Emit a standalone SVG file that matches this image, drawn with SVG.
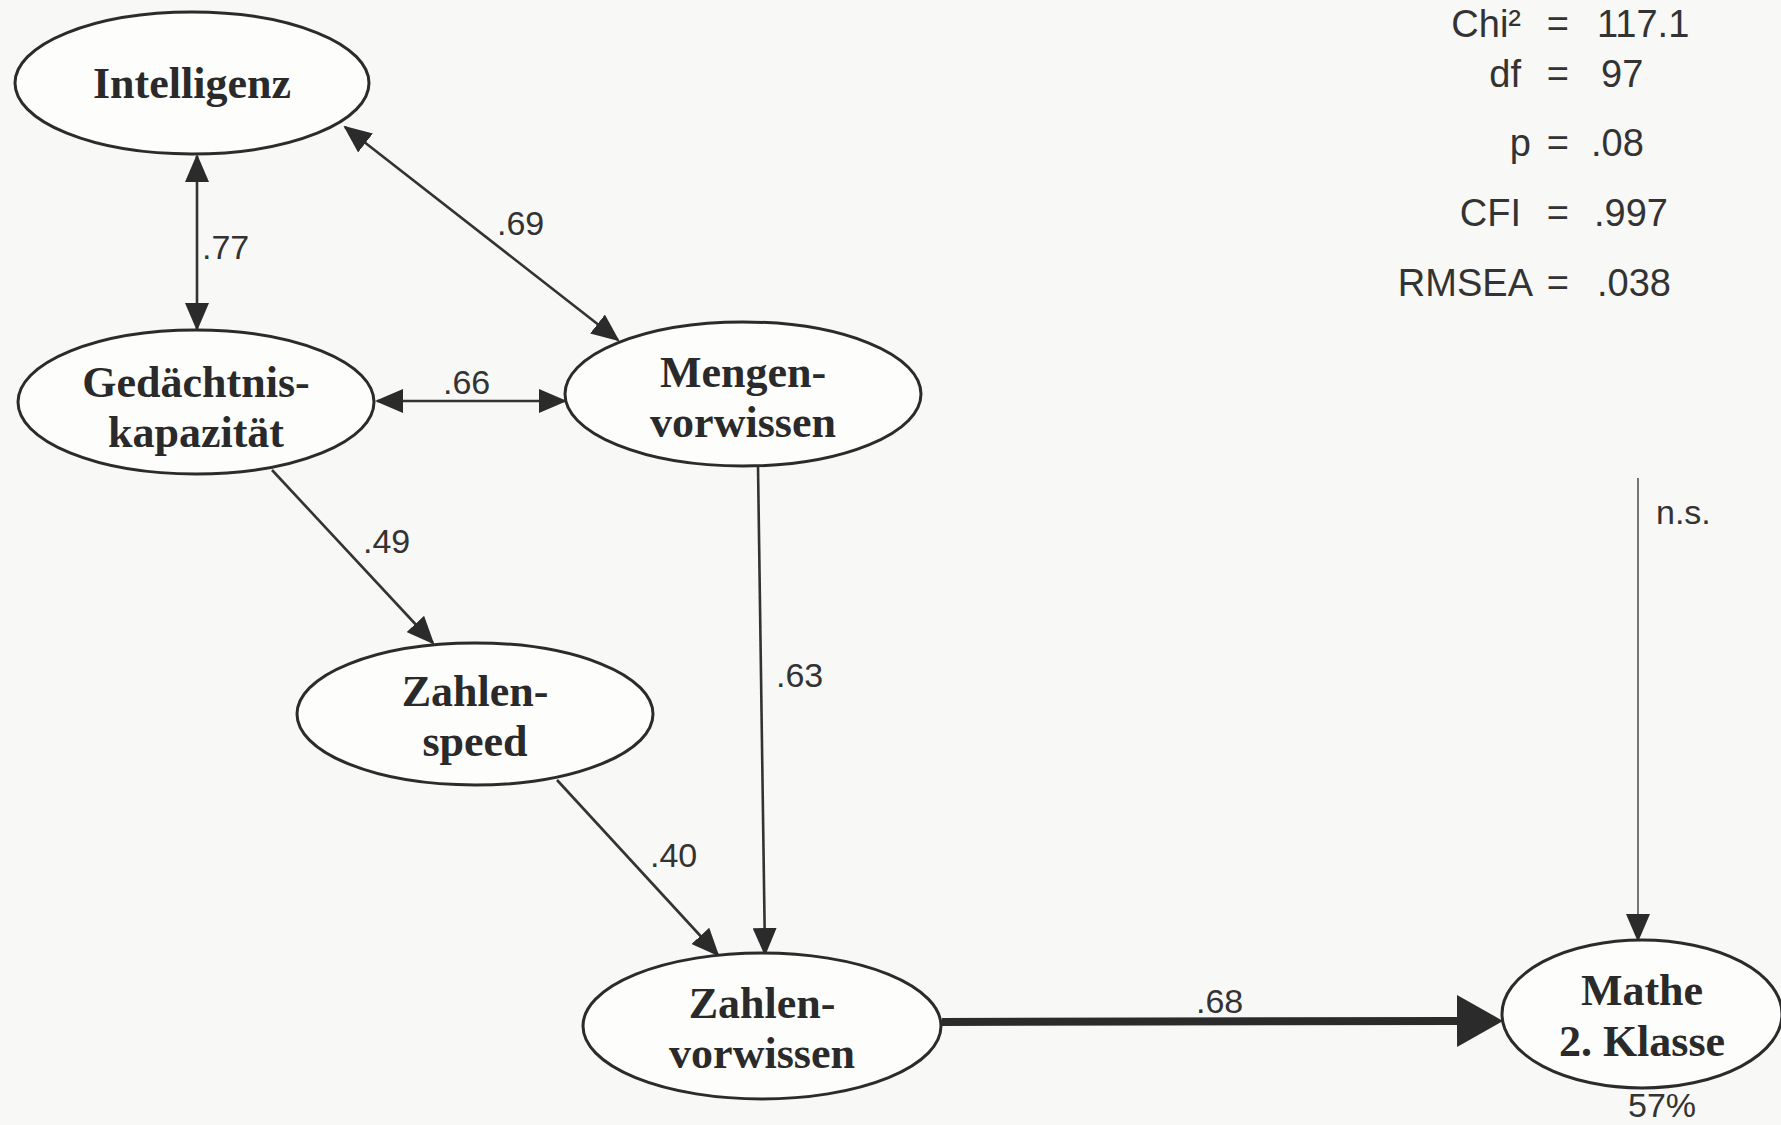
<svg xmlns="http://www.w3.org/2000/svg" width="1781" height="1125" viewBox="0 0 1781 1125">
<style>
.node ellipse{fill:#fdfdfc;stroke:#2b2b2b;stroke-width:3}
.node text{font-family:"Liberation Serif","Times New Roman",serif;font-weight:bold;font-size:44px;fill:#2a2a2a;text-anchor:middle}
.edge{stroke:#333;stroke-width:2.6;fill:none}
.lbl{font-family:"Liberation Sans",Arial,sans-serif;font-size:34px;fill:#333}
.stat{font-family:"Liberation Sans",Arial,sans-serif;font-size:38px;fill:#333}
</style>
<defs>
<marker id="ah" markerUnits="userSpaceOnUse" markerWidth="28" markerHeight="24" refX="26" refY="12" orient="auto-start-reverse" viewBox="0 0 28 24">
<path d="M0,0 L28,12 L0,24 z" fill="#2b2b2b"/>
</marker>
<marker id="big" markerUnits="userSpaceOnUse" markerWidth="46" markerHeight="52" refX="0" refY="26" orient="auto" viewBox="0 0 46 52">
<path d="M0,0 L46,26 L0,52 z" fill="#2b2b2b"/>
</marker>
</defs>
<rect x="0" y="0" width="1781" height="1125" fill="#f8f8f6"/>

<g id="connectors">
<line class="edge" x1="197" y1="156" x2="197" y2="329" marker-start="url(#ah)" marker-end="url(#ah)"/>
<line class="edge" x1="345" y1="127" x2="618" y2="340" marker-start="url(#ah)" marker-end="url(#ah)"/>
<line class="edge" x1="377" y1="401" x2="565" y2="401" marker-start="url(#ah)" marker-end="url(#ah)"/>
<line class="edge" x1="272" y1="470" x2="433" y2="643" marker-end="url(#ah)"/>
<line class="edge" x1="758" y1="466" x2="765" y2="954" marker-end="url(#ah)"/>
<line class="edge" x1="557" y1="780" x2="718" y2="955" marker-end="url(#ah)"/>
<line x1="942" y1="1022" x2="1457" y2="1021" stroke="#2b2b2b" stroke-width="8" marker-end="url(#big)"/>
<line x1="1638" y1="478" x2="1638" y2="940" stroke="#555" stroke-width="1.6" marker-end="url(#ah)"/>
<text class="lbl" x="202" y="259">.77</text>
<text class="lbl" x="497" y="235">.69</text>
<text class="lbl" x="443" y="394">.66</text>
<text class="lbl" x="363" y="553">.49</text>
<text class="lbl" x="776" y="687">.63</text>
<text class="lbl" x="650" y="867">.40</text>
<text class="lbl" x="1196" y="1013">.68</text>
<text class="lbl" x="1656" y="524">n.s.</text>
</g>

<g id="node-intelligenz" class="node">
<ellipse cx="192" cy="83" rx="177" ry="71"/>
<text x="192" y="98">Intelligenz</text>
</g>
<g id="node-gedaechtnis" class="node">
<ellipse cx="196" cy="402" rx="178" ry="72"/>
<text x="196" y="397">Gedächtnis-</text>
<text x="196" y="447">kapazität</text>
</g>
<g id="node-mengen" class="node">
<ellipse cx="743" cy="394" rx="178" ry="72"/>
<text x="743" y="387">Mengen-</text>
<text x="743" y="437">vorwissen</text>
</g>
<g id="node-zahlenspeed" class="node">
<ellipse cx="475" cy="714" rx="178" ry="71"/>
<text x="475" y="706">Zahlen-</text>
<text x="475" y="756">speed</text>
</g>
<g id="node-zahlenvorwissen" class="node">
<ellipse cx="762" cy="1026" rx="179" ry="73"/>
<text x="762" y="1018">Zahlen-</text>
<text x="762" y="1068">vorwissen</text>
</g>
<g id="node-mathe" class="node">
<ellipse cx="1642" cy="1014" rx="140" ry="74"/>
<text x="1642" y="1005">Mathe</text>
<text x="1642" y="1056">2. Klasse</text>
</g>
<text class="lbl" x="1662" y="1117" text-anchor="middle" font-size="35">57%</text>

<g id="fit-stats" class="stat">
<text class="stat" x="1521" y="37" text-anchor="end">Chi²</text>
<text class="stat" x="1569" y="37" text-anchor="end">=</text>
<text class="stat" x="1597" y="37">117.1</text>
<text class="stat" x="1521" y="87" text-anchor="end">df</text>
<text class="stat" x="1569" y="87" text-anchor="end">=</text>
<text class="stat" x="1601" y="87">97</text>
<text class="stat" x="1531" y="156" text-anchor="end">p</text>
<text class="stat" x="1569" y="156" text-anchor="end">=</text>
<text class="stat" x="1591" y="156">.08</text>
<text class="stat" x="1521" y="226" text-anchor="end">CFI</text>
<text class="stat" x="1569" y="226" text-anchor="end">=</text>
<text class="stat" x="1594" y="226">.997</text>
<text class="stat" x="1533" y="296" text-anchor="end">RMSEA</text>
<text class="stat" x="1569" y="296" text-anchor="end">=</text>
<text class="stat" x="1597" y="296">.038</text>
</g>
</svg>
